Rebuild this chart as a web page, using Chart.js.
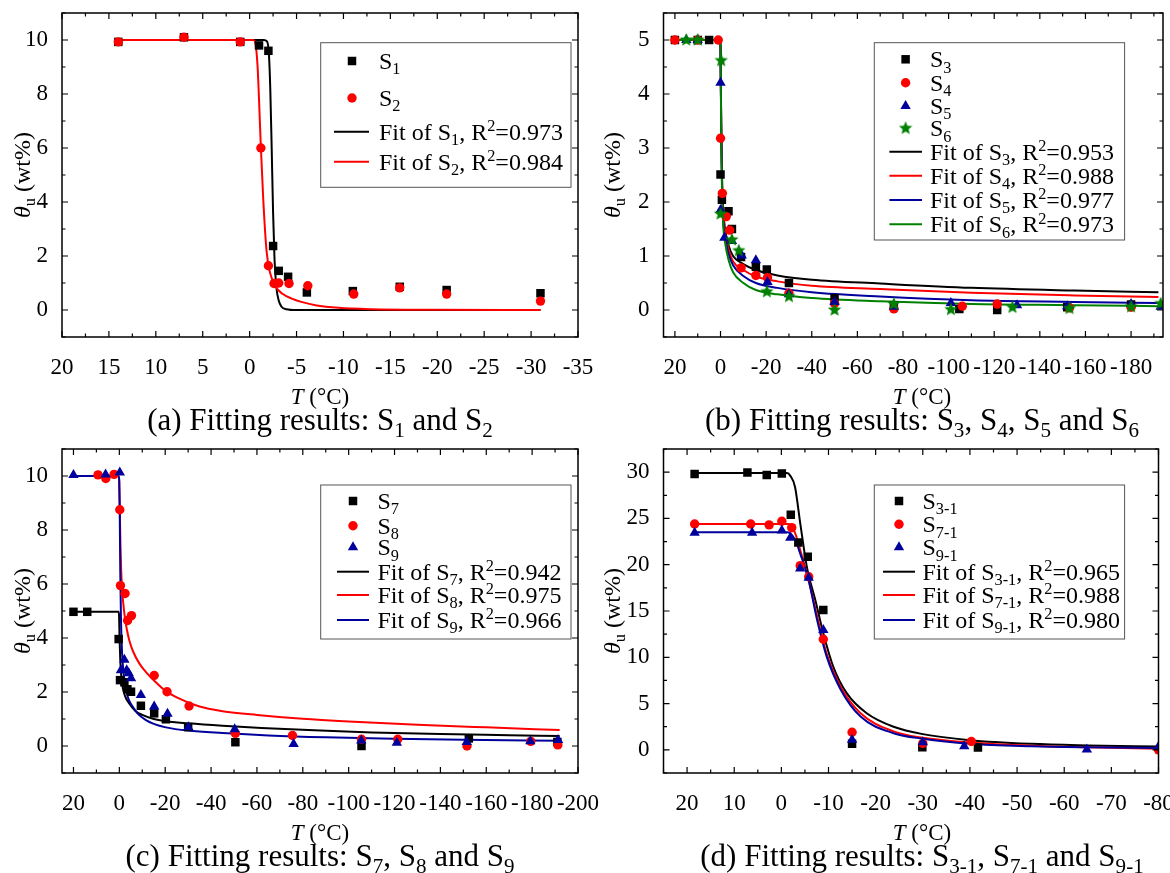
<!DOCTYPE html>
<html>
<head>
<meta charset="utf-8">
<title>Fitting results</title>
<script src="https://cdn.jsdelivr.net/npm/chart.js@4.4.1/dist/chart.umd.min.js"></script>
<style>
  html, body { margin: 0; padding: 0; background: #fff; }
  #wrap { position: relative; width: 1170px; height: 873px; overflow: hidden; }
  #wrap canvas { position: absolute; left: 0; top: 0; }
</style>
</head>
<body>
<div id="wrap">
  <canvas id="chartA" width="1170" height="873"></canvas>
  <canvas id="chartB" width="1170" height="873"></canvas>
  <canvas id="chartC" width="1170" height="873"></canvas>
  <canvas id="chartD" width="1170" height="873"></canvas>
</div>
<script>
// ---- (a) S1, S2 ----
const s1T = [14, 7, 1, -1, -2, -2.5, -3.1, -4.1, -6.1, -11, -16, -21, -31];
const s1Theta = [9.93, 10.1, 9.93, 9.8, 9.6, 2.37, 1.45, 1.23, 0.65, 0.7, 0.86, 0.74, 0.62];
const s2T = [14, 7, 1, -1.2, -2.0, -2.6, -3.1, -4.2, -6.2, -11.1, -16, -21, -31];
const s2Theta = [9.93, 10.1, 9.93, 6.0, 1.64, 0.98, 1.0, 0.98, 0.9, 0.59, 0.82, 0.59, 0.33];
const fitA1T = [14, -1.5, -1.85, -2.05, -2.2, -2.35, -2.5, -2.65, -2.85, -3.1, -3.4, -3.9, -5, -31];
const fitA1Theta = [10, 10, 9.95, 9.5, 8.2, 6.0, 3.6, 1.9, 0.85, 0.35, 0.12, 0.03, 0, 0];
const fitA2T = [14, -0.4, -0.65, -0.85, -1.0, -1.2, -1.45, -1.8, -2.2, -2.8, -3.5, -4.5, -5.5, -7, -9.5, -13, -20, -31];
const fitA2Theta = [10, 10, 9.8, 9.0, 7.8, 6.0, 4.1, 2.2, 1.35, 0.85, 0.6, 0.42, 0.3, 0.18, 0.08, 0.03, 0.01, 0];

// ---- (b) S3 .. S6 ----
const s3T = [20, 10, 5, 0, -0.6, -3.5, -5, -9, -15.5, -20.3, -30, -50, -76, -104.7, -121.3, -152, -180];
const s3Theta = [5, 5, 5, 2.51, 2.04, 1.83, 1.5, 0.98, 0.8, 0.75, 0.5, 0.22, 0.08, 0.02, 0.0, 0.05, 0.1];
const s4T = [20, 10, 1, 0, -0.8, -2.5, -4, -9, -15.5, -20.6, -30, -50, -76, -106, -121.3, -153, -180];
const s4Theta = [5, 5, 5, 3.18, 2.16, 1.73, 1.48, 0.78, 0.64, 0.6, 0.31, 0.12, 0.02, 0.07, 0.11, 0.04, 0.05];
const s5T = [15, 10, 0, 0, -1.7, -5, -9.3, -15.5, -20.6, -30, -50, -76, -101, -130, -152, -180, -193];
const s5Theta = [5, 5, 4.21, 1.85, 1.34, 1.28, 1.01, 0.92, 0.52, 0.29, 0.15, 0.06, 0.13, 0.09, 0.07, 0.11, 0.06];
const s6T = [15, 10, -0.3, 0, -5, -8, -20.3, -30, -50, -76, -101, -128, -153, -180, -193];
const s6Theta = [5, 5, 4.62, 1.78, 1.3, 1.1, 0.34, 0.25, 0.0, 0.11, 0.01, 0.05, 0.03, 0.06, 0.12];
const fitBT = [20, 0.3, 0, -0.3, -0.7, -1.2, -2, -3.5, -5.5, -10, -15.5, -25, -40, -70, -110, -155, -192];
const fitB3 = [5, 5, 4.85, 3.5, 2.4, 1.85, 1.5, 1.2, 1.0, 0.85, 0.74, 0.64, 0.56, 0.49, 0.41, 0.36, 0.33];
const fitB4 = [5, 5, 4.85, 3.4, 2.3, 1.75, 1.42, 1.12, 0.9, 0.74, 0.62, 0.53, 0.45, 0.39, 0.32, 0.27, 0.24];
const fitB5 = [5, 5, 4.85, 3.3, 2.2, 1.65, 1.35, 1.04, 0.83, 0.63, 0.5, 0.41, 0.33, 0.25, 0.18, 0.15, 0.13];
const fitB6 = [5, 5, 4.85, 3.2, 2.1, 1.55, 1.25, 0.93, 0.7, 0.5, 0.37, 0.29, 0.22, 0.16, 0.11, 0.09, 0.07];

// ---- (c) S7 .. S9 ----
const s7T = [20, 14, 0.3, -0.3, -2.2, -3.5, -5.1, -9.4, -15.2, -20.3, -30, -50.6, -105.6, -152.4, -191];
const s7Theta = [4.97, 4.97, 3.96, 2.44, 2.36, 2.1, 2.01, 1.49, 1.21, 0.99, 0.7, 0.14, 0.0, 0.28, 0.15];
const s8T = [9.3, 5.9, 2.3, -0.2, -0.5, -2.5, -3.6, -5.3, -15.2, -20.8, -30.4, -50.6, -75.5, -105.6, -121.4, -151.6, -179.4, -191.2];
const s8Theta = [10.04, 9.91, 10.06, 8.75, 5.94, 5.65, 4.65, 4.83, 2.61, 2.01, 1.48, 0.47, 0.39, 0.25, 0.25, 0.0, 0.17, 0.04];
const s9T = [20, 6, -0.2, -0.7, -2.2, -3.2, -4.1, -5.1, -9.4, -15.2, -21, -30.1, -50.3, -76, -105.5, -121, -151.5, -179.2, -191.3];
const s9Theta = [10.04, 10.06, 10.13, 2.81, 3.19, 2.81, 2.69, 2.51, 1.89, 1.46, 1.19, 0.69, 0.62, 0.07, 0.2, 0.12, 0.15, 0.18, 0.22];
const fitC7T = [20, 0.3, 0.1, -0.1, -0.4, -0.8, -1.4, -2.5, -4.3, -7, -10, -15, -20, -30, -45, -62, -85, -110, -140, -170, -192];
const fitC7 = [4.97, 4.97, 4.8, 4.0, 3.2, 2.65, 2.2, 1.85, 1.58, 1.3, 1.15, 1.0, 0.92, 0.84, 0.75, 0.67, 0.58, 0.5, 0.44, 0.4, 0.37];
const fitC8T = [20, 0.3, 0.1, -0.2, -0.5, -0.8, -1.3, -2.2, -3.2, -4.3, -6, -8.7, -12, -15.2, -20, -25, -35, -45, -60, -80, -100, -130, -160, -192];
const fitC8 = [10, 10, 9.8, 8.8, 7.4, 6.5, 5.7, 4.9, 4.35, 3.93, 3.5, 3.06, 2.7, 2.42, 2.05, 1.8, 1.46, 1.29, 1.15, 1.01, 0.91, 0.79, 0.69, 0.59];
const fitC9T = [20, 0.3, 0, -0.2, -0.4, -0.7, -1.2, -2, -2.9, -4.2, -5.8, -8, -11.6, -15, -20.3, -30, -45, -65, -90, -120, -150, -192];
const fitC9 = [10, 10, 9.8, 8.5, 6.5, 4.8, 3.43, 2.6, 2.07, 1.7, 1.46, 1.2, 0.96, 0.82, 0.69, 0.57, 0.48, 0.39, 0.32, 0.27, 0.23, 0.19];

// ---- (d) S3-1, S7-1, S9-1 ----
const s31T = [18.4, 7.2, 3.1, -0.1, -2.0, -3.6, -5.6, -8.9, -15, -29.9, -41.7];
const s31Theta = [29.8, 29.95, 29.7, 29.85, 25.4, 22.4, 20.85, 15.1, 0.65, 0.29, 0.25];
const s71T = [18.4, 6.5, 2.6, -0.1, -2.2, -4, -5.8, -8.9, -15, -30, -40.3, -80];
const s71Theta = [24.4, 24.4, 24.3, 24.7, 24.0, 19.9, 18.7, 11.95, 1.9, 0.7, 0.9, 0.0];
const s91T = [18.4, 6.2, -0.1, -1.9, -4, -5.8, -8.9, -15, -30, -38.8, -64.8, -80];
const s91Theta = [23.45, 23.45, 23.7, 22.9, 19.6, 18.6, 12.95, 1.08, 0.83, 0.4, 0.05, 0.36];
const fitD31T = [18.4, -1.2, -1.9, -2.9, -4, -5.4, -7.2, -8.9, -11, -13.9, -18.1, -23.8, -30, -40, -53, -65, -80];
const fitD31 = [29.9, 29.9, 29.6, 28.4, 24.5, 19.8, 16.2, 12.6, 9.0, 6.1, 3.96, 2.5, 1.7, 1.05, 0.65, 0.48, 0.35];
const fitD71T = [18.4, -1.4, -2.2, -3, -4, -5.8, -7.6, -9.6, -12.6, -16.8, -23.8, -30, -40, -53, -65, -80];
const fitD71 = [24.4, 24.4, 24.2, 23.3, 21.6, 18.3, 14.4, 10.4, 6.8, 3.96, 2.0, 1.3, 0.8, 0.45, 0.28, 0.12];
const fitD91T = [18.4, -1.3, -2.1, -3, -4, -5.8, -7.6, -9.6, -12.6, -16.8, -23.8, -30, -40, -53, -65, -80];
const fitD91 = [23.5, 23.5, 23.3, 22.6, 21.2, 18.3, 14.0, 10.1, 6.5, 3.6, 1.8, 1.2, 0.65, 0.38, 0.27, 0.2];

// ---- tick labels ----
const ticksA_T = [20, 15, 10, 5, 0, -5, -10, -15, -20, -25, -30, -35];
const ticksA_Theta = [0, 2, 4, 6, 8, 10];
const ticksB_T = [20, 0, -20, -40, -60, -80, -100, -120, -140, -160, -180];
const ticksB_Theta = [0, 1, 2, 3, 4, 5];
const ticksC_T = [20, 0, -20, -40, -60, -80, -100, -120, -140, -160, -180, -200];
const ticksC_Theta = [0, 2, 4, 6, 8, 10];
const ticksD_T = [20, 10, 0, -10, -20, -30, -40, -50, -60, -70, -80];
const ticksD_Theta = [0, 5, 10, 15, 20, 25, 30];

const SERIF = '"Liberation Serif", "Times New Roman", Times, serif';
const BLACK = '#000000', RED = '#ff0000', BLUE = '#00009c', GREEN = '#008000';
const W = 1170, H = 873;

// étoile pleine pour S6 (Chart.js n'a qu'une étoile en traits)
function makeStar(color, size) {
    const c = document.createElement('canvas');
    c.width = c.height = size;
    const g = c.getContext('2d');
    const R = size / 2, r = R * 0.45;
    g.beginPath();
    for (let k = 0; k < 10; k++) {
        const ang = -Math.PI / 2 + k * Math.PI / 5;
        const rr = k % 2 ? r : R;
        g.lineTo(R + rr * Math.cos(ang), R + rr * Math.sin(ang));
    }
    g.closePath();
    g.fillStyle = color;
    g.fill();
    return c;
}
const STAR = makeStar(GREEN, 14);
const RADIUS = { rect: 6, circle: 4.7, triangle: 6 };

function pts(xs, ys) { return xs.map((x, i) => ({ x, y: ys[i] })); }

function markerSet(label, xs, ys, color, style, order) {
    return {
        label, data: pts(xs, ys), showLine: false, order,
        pointStyle: style, pointRadius: typeof style === 'string' ? RADIUS[style] : 7,
        pointBackgroundColor: color, pointBorderColor: color, pointBorderWidth: 0,
        backgroundColor: color, borderColor: color
    };
}

function fitSet(label, xs, ys, color, order) {
    return {
        label, data: pts(xs, ys), showLine: true, order,
        borderColor: color, backgroundColor: color, borderWidth: 2,
        pointRadius: 0, cubicInterpolationMode: 'monotone', fill: false
    };
}

// texte avec indices _{..}, exposants ^{..} et italique *..*
function parseRich(str) {
    const out = [];
    let i = 0, italic = false, buf = '';
    const flush = () => { if (buf) out.push({ t: buf, mode: 'n', it: italic }); buf = ''; };
    while (i < str.length) {
        const c = str[i];
        if ((c === '_' || c === '^') && str[i + 1] === '{') {
            flush();
            const end = str.indexOf('}', i);
            out.push({ t: str.slice(i + 2, end), mode: c === '_' ? 'sub' : 'sup', it: italic });
            i = end + 1;
        } else if (c === '*') {
            flush(); italic = !italic; i++;
        } else { buf += c; i++; }
    }
    flush();
    return out;
}

function richFont(seg, size) {
    const s = seg.mode === 'n' ? size : size * 0.68;
    return (seg.it ? 'italic ' : '') + s + 'px ' + SERIF;
}

function drawRich(ctx, str, x, y, size, align) {
    const segs = parseRich(str);
    ctx.textBaseline = 'alphabetic';
    ctx.textAlign = 'left';
    let w = 0;
    segs.forEach(s => { ctx.font = richFont(s, size); s.w = ctx.measureText(s.t).width; w += s.w; });
    let cx = align === 'center' ? x - w / 2 : x;
    const base = y + size * 0.33;
    segs.forEach(s => {
        ctx.font = richFont(s, size);
        const dy = s.mode === 'sub' ? size * 0.22 : (s.mode === 'sup' ? -size * 0.36 : 0);
        ctx.fillText(s.t, cx, base + dy);
        cx += s.w;
    });
}

function drawMarker(ctx, style, r, color, x, y) {
    ctx.save();
    ctx.fillStyle = color;
    if (style instanceof HTMLCanvasElement) {
        ctx.drawImage(style, x - style.width / 2, y - style.height / 2);
    } else if (style === 'rect') {
        const h = r * Math.SQRT1_2;
        ctx.fillRect(x - h, y - h, 2 * h, 2 * h);
    } else if (style === 'circle') {
        ctx.beginPath(); ctx.arc(x, y, r, 0, 2 * Math.PI); ctx.fill();
    } else if (style === 'triangle') {
        ctx.beginPath();
        ctx.moveTo(x, y - r);
        ctx.lineTo(x + r * Math.sin(2 * Math.PI / 3), y - r * Math.cos(2 * Math.PI / 3));
        ctx.lineTo(x + r * Math.sin(4 * Math.PI / 3), y - r * Math.cos(4 * Math.PI / 3));
        ctx.closePath(); ctx.fill();
    }
    ctx.restore();
}

// petites graduations vers l'intérieur sur les quatre côtés
function drawInnerTicks(ctx, scale, a, majors, horizontal) {
    const half = (majors[1] - majors[0]) / 2;
    const lo = Math.min(scale.min, scale.max), hi = Math.max(scale.min, scale.max);
    const marks = [[majors[0] - half, 3.5]];
    majors.forEach(v => { marks.push([v, 6]); marks.push([v + half, 3.5]); });
    ctx.beginPath();
    marks.forEach(([v, len]) => {
        if (v < lo || v > hi) return;
        const p = scale.getPixelForValue(v);
        if (horizontal) {
            ctx.moveTo(p, a.bottom); ctx.lineTo(p, a.bottom - len);
            ctx.moveTo(p, a.top); ctx.lineTo(p, a.top + len);
        } else {
            ctx.moveTo(a.left, p); ctx.lineTo(a.left + len, p);
            ctx.moveTo(a.right, p); ctx.lineTo(a.right - len, p);
        }
    });
    ctx.stroke();
}

const panelDecor = {
    id: 'panelDecor',
    afterDraw(chart, args, opts) {
        const ctx = chart.ctx, a = chart.chartArea;
        ctx.save();
        ctx.strokeStyle = '#000';
        ctx.lineWidth = 1.5;
        ctx.strokeRect(a.left, a.top, a.right - a.left, a.bottom - a.top);
        ctx.lineWidth = 1.2;
        drawInnerTicks(ctx, chart.scales.x, a, opts.xTicks, true);
        drawInnerTicks(ctx, chart.scales.y, a, opts.yTicks, false);

        // légende encadrée
        const L = opts.legend;
        ctx.fillStyle = '#fff';
        ctx.fillRect(L.box[0], L.box[1], L.box[2] - L.box[0], L.box[3] - L.box[1]);
        ctx.strokeStyle = '#555';
        ctx.lineWidth = 1;
        ctx.strokeRect(L.box[0], L.box[1], L.box[2] - L.box[0], L.box[3] - L.box[1]);
        L.rows.forEach((ry, i) => {
            const ds = chart.data.datasets[i];
            if (ds.showLine) {
                ctx.strokeStyle = ds.borderColor;
                ctx.lineWidth = 2;
                ctx.beginPath(); ctx.moveTo(L.lineX[0], ry); ctx.lineTo(L.lineX[1], ry); ctx.stroke();
            } else {
                drawMarker(ctx, ds.pointStyle, ds.pointRadius, ds.pointBackgroundColor, L.markerX, ry);
            }
            ctx.fillStyle = '#000';
            drawRich(ctx, ds.label, L.textX, ry, 24, 'left');
        });

        // titres des axes et légende de la figure
        ctx.fillStyle = '#000';
        drawRich(ctx, '*T* (°C)', opts.titleX, a.bottom + 59, 23, 'center');
        drawRich(ctx, opts.caption, opts.titleX, a.bottom + 83, 31, 'center');
        ctx.translate(a.left - opts.yTitleGap, (a.top + a.bottom) / 2);
        ctx.rotate(-Math.PI / 2);
        drawRich(ctx, '*θ*_{u} (wt%)', 0, 0, 24, 'center');
        ctx.restore();
    }
};

function axis(min, max, ticks, horizontal) {
    return {
        type: 'linear', min, max, reverse: horizontal,
        grid: { display: false },
        border: { display: false },
        afterBuildTicks: s => { s.ticks = ticks.map(v => ({ value: v })); },
        afterFit: s => {
            if (horizontal) s.height = 40; else s.width = 50;
            s.paddingLeft = s.paddingRight = s.paddingTop = s.paddingBottom = 0;
        },
        ticks: {
            color: '#000', font: { family: SERIF, size: 23 },
            padding: horizontal ? 9 : 6, maxRotation: 0, autoSkip: false,
            callback: v => String(v)
        }
    };
}

function makePanel(id, p) {
    const canvas = document.getElementById(id);
    return new Chart(canvas, {
        type: 'scatter',
        data: { datasets: p.datasets },
        options: {
            responsive: false,
            animation: false,
            events: [],
            layout: {
                padding: {
                    left: p.area.left - 50, right: W - p.area.right,
                    top: p.area.top, bottom: H - p.area.bottom - 40
                }
            },
            scales: {
                x: axis(p.x[0], p.x[1], p.xTicks, true),
                y: axis(p.y[0], p.y[1], p.yTicks, false)
            },
            plugins: {
                legend: { display: false },
                tooltip: { enabled: false },
                panelDecor: {
                    xTicks: p.xTicks, yTicks: p.yTicks, legend: p.legend,
                    titleX: p.titleX, yTitleGap: p.yTitleGap, caption: p.caption
                }
            }
        },
        plugins: [panelDecor]
    });
}

makePanel('chartA', {
    area: { left: 62, right: 578, top: 13, bottom: 337 },
    x: [-35, 20], y: [-1, 11], xTicks: ticksA_T, yTicks: ticksA_Theta,
    datasets: [
        markerSet('S_{1}', s1T, s1Theta, BLACK, 'rect', 2),
        markerSet('S_{2}', s2T, s2Theta, RED, 'circle', 1),
        fitSet('Fit of S_{1}, R^{2}=0.973', fitA1T, fitA1Theta, BLACK, 4),
        fitSet('Fit of S_{2}, R^{2}=0.984', fitA2T, fitA2Theta, RED, 3)
    ],
    legend: { box: [320.7, 42.7, 571, 187.3], rows: [61, 98, 131.7, 161.7], markerX: 352, lineX: [334, 369], textX: 379 },
    titleX: 320, yTitleGap: 40,
    caption: '(a) Fitting results: S_{1} and S_{2}'
});

makePanel('chartB', {
    area: { left: 663.5, right: 1167, top: 13, bottom: 337 },
    x: [-194, 25], y: [-0.5, 5.5], xTicks: ticksB_T, yTicks: ticksB_Theta,
    datasets: [
        markerSet('S_{3}', s3T, s3Theta, BLACK, 'rect', 4),
        markerSet('S_{4}', s4T, s4Theta, RED, 'circle', 3),
        markerSet('S_{5}', s5T, s5Theta, BLUE, 'triangle', 2),
        markerSet('S_{6}', s6T, s6Theta, GREEN, STAR, 1),
        fitSet('Fit of S_{3}, R^{2}=0.953', fitBT, fitB3, BLACK, 8),
        fitSet('Fit of S_{4}, R^{2}=0.988', fitBT, fitB4, RED, 7),
        fitSet('Fit of S_{5}, R^{2}=0.977', fitBT, fitB5, BLUE, 6),
        fitSet('Fit of S_{6}, R^{2}=0.973', fitBT, fitB6, GREEN, 5)
    ],
    legend: { box: [874.3, 42.7, 1124.6, 240], rows: [59.3, 82.7, 106, 128.3, 151.7, 175.7, 200, 224.3], markerX: 905.6, lineX: [889.4, 922], textX: 930 },
    titleX: 922, yTitleGap: 51.5,
    caption: '(b) Fitting results: S_{3}, S_{4}, S_{5} and S_{6}'
});

makePanel('chartC', {
    area: { left: 62, right: 578, top: 449, bottom: 773 },
    x: [-200, 25], y: [-1, 11], xTicks: ticksC_T, yTicks: ticksC_Theta,
    datasets: [
        markerSet('S_{7}', s7T, s7Theta, BLACK, 'rect', 3),
        markerSet('S_{8}', s8T, s8Theta, RED, 'circle', 2),
        markerSet('S_{9}', s9T, s9Theta, BLUE, 'triangle', 1),
        fitSet('Fit of S_{7}, R^{2}=0.942', fitC7T, fitC7, BLACK, 6),
        fitSet('Fit of S_{8}, R^{2}=0.975', fitC8T, fitC8, RED, 5),
        fitSet('Fit of S_{9}, R^{2}=0.966', fitC9T, fitC9, BLUE, 4)
    ],
    legend: { box: [320.7, 485, 571, 639], rows: [501, 525.7, 547.3, 571.7, 595, 620], markerX: 353, lineX: [337, 369], textX: 377.5 },
    titleX: 320, yTitleGap: 40,
    caption: '(c) Fitting results: S_{7}, S_{8} and S_{9}'
});

makePanel('chartD', {
    area: { left: 663.5, right: 1158.5, top: 449, bottom: 773 },
    x: [-80, 25], y: [-2.5, 32.5], xTicks: ticksD_T, yTicks: ticksD_Theta,
    datasets: [
        markerSet('S_{3-1}', s31T, s31Theta, BLACK, 'rect', 3),
        markerSet('S_{7-1}', s71T, s71Theta, RED, 'circle', 2),
        markerSet('S_{9-1}', s91T, s91Theta, BLUE, 'triangle', 1),
        fitSet('Fit of S_{3-1}, R^{2}=0.965', fitD31T, fitD31, BLACK, 6),
        fitSet('Fit of S_{7-1}, R^{2}=0.988', fitD71T, fitD71, RED, 5),
        fitSet('Fit of S_{9-1}, R^{2}=0.980', fitD91T, fitD91, BLUE, 4)
    ],
    legend: { box: [874.3, 485, 1124.6, 639], rows: [501, 524.3, 547.3, 571.7, 595, 620], markerX: 899, lineX: [883, 915], textX: 922.5 },
    titleX: 922, yTitleGap: 51.5,
    caption: '(d) Fitting results: S_{3-1}, S_{7-1} and S_{9-1}'
});
</script>
</body>
</html>
